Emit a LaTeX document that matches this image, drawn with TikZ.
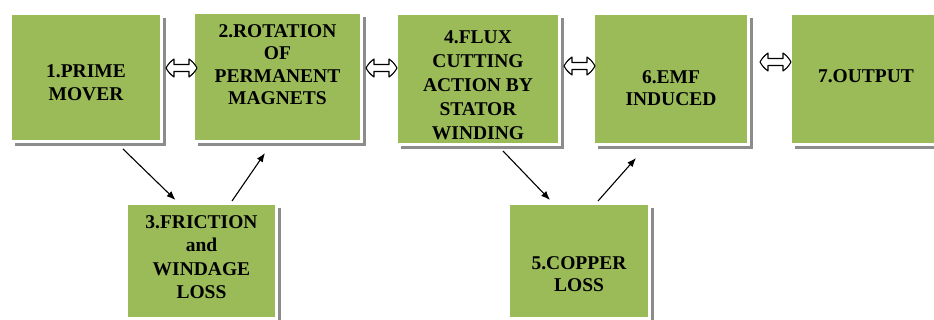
\documentclass[tikz,border=0pt]{standalone}
\usepackage{fontspec}
\setmainfont{Liberation Serif}
\usetikzlibrary{arrows.meta,shadows,calc}
\definecolor{boxgreen}{HTML}{9BBB59}
\definecolor{shadowgray}{HTML}{8C8C8C}
\begin{document}
\begin{tikzpicture}[x=1pt,y=1pt,
  box/.style={draw=white, line width=3pt, fill=boxgreen, inner sep=0pt,
    drop shadow={shadow xshift=4pt, shadow yshift=-5pt, fill=shadowgray, opacity=1}},
  lbl/.style={font=\bfseries\fontsize{19.5}{22.5}\selectfont, align=center, inner sep=0pt},
  conn/.style={-{Latex[length=9pt,width=7pt]}, line width=1.1pt},
  dbl/.style={draw=black, fill=white, line width=1.1pt, line join=round}]
\clip (0,0) rectangle (934,-320);
\fill[white] (0,0) rectangle (934,-320);
% boxes
\node[box, minimum width=151pt, minimum height=128pt] (b1) at (86,-77.5) {};
\node[box, minimum width=168pt, minimum height=129pt] (b2) at (277.5,-77) {};
\node[box, minimum width=163pt, minimum height=131pt] (b4) at (478,-79) {};
\node[box, minimum width=155pt, minimum height=131pt] (b6) at (671,-79) {};
\node[box, minimum width=151pt, minimum height=131pt] (b7) at (866,-79) {};
\node[box, minimum width=150pt, minimum height=115pt] (b3) at (201.5,-261) {};
\node[box, minimum width=141pt, minimum height=115pt] (b5) at (579,-261) {};
% texts
\node[lbl] (t1) at ([yshift=-5pt]b1.center) {1.PRIME\\MOVER};
\node[lbl] (t2) at ([yshift=12.5pt]b2.center) {2.ROTATION\\OF\\PERMANENT\\MAGNETS};
\node[lbl, font=\bfseries\fontsize{19.5}{24}\selectfont] (t4) at ([yshift=-6pt]b4.center) {4.FLUX\\CUTTING\\ACTION BY\\STATOR\\WINDING};
\node[lbl] (t6) at ([yshift=-9pt]b6.center) {6.EMF\\INDUCED};
\node[lbl] (t7) at ([yshift=3pt]b7.center) {7.OUTPUT};
\node[lbl, font=\bfseries\fontsize{19.5}{23.3}\selectfont] (t3) at ([yshift=4pt]b3.center) {3.FRICTION\\and\\WINDAGE\\LOSS};
\node[lbl] (t5) at ([yshift=-13pt]b5.center) {5.COPPER\\LOSS};
% double arrows (hollow, two-headed)
\coordinate (d12) at ($(b1.east |- 0,-68)+(3,0)$);
\coordinate (d24) at ($(b2.east |- 0,-68)+(3,0)$);
\coordinate (d46) at ($(b4.east |- 0,-66)+(3,0)$);
\coordinate (d67) at ($(b6.east |- 0,-62)+(10,0)$);
\foreach \c in {d12,d24,d46,d67}{
  \draw[dbl] (\c) to[bend left=12] ++(8,9) -- ++(0,-5.5) -- ++(15,0) -- ++(0,5.5)
    to[bend left=12] ++(8,-9) to[bend left=12] ++(-8,-9) -- ++(0,5.5) -- ++(-15,0)
    -- ++(0,-5.5) to[bend left=12] cycle;
}
% connectors
\draw[conn] ([xshift=37pt,yshift=-6pt]b1.south) -- ([xshift=-26pt,yshift=2pt]b3.north);
\draw[conn] ([xshift=30.5pt,yshift=1pt]b3.north) -- ([xshift=-12.5pt,yshift=-10pt]b2.south);
\draw[conn] ([xshift=25pt,yshift=-5pt]b4.south) -- ([xshift=-29pt,yshift=2pt]b5.north);
\draw[conn] ([xshift=19pt,yshift=1pt]b5.north) -- ([xshift=-35pt,yshift=-12pt]b6.south);
\end{tikzpicture}
\end{document}
